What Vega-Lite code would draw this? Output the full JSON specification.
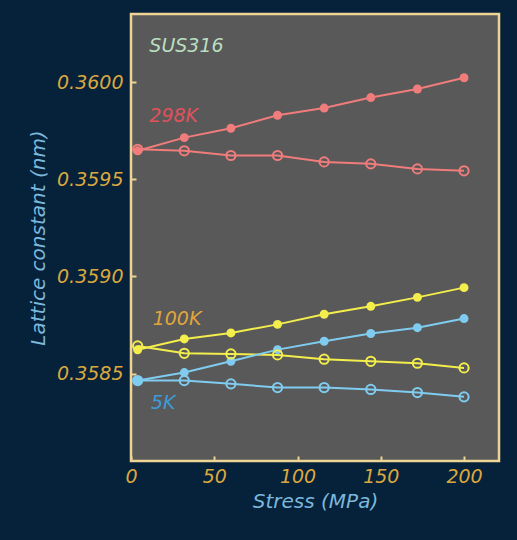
{
  "$schema": "https://vega.github.io/schema/vega-lite/v6.json",
  "width": 368,
  "height": 447,
  "autosize": "none",
  "padding": {"left": 131, "top": 14, "right": 18, "bottom": 79},
  "background": "#06213a",
  "config": {
    "view": {"fill": "#595959", "stroke": "#eed596", "strokeWidth": 2.5},
    "font": "DejaVu Sans",
    "axis": {
      "grid": false,
      "domain": false,
      "labelColor": "#dba83e",
      "labelFont": "DejaVu Sans",
      "labelFontStyle": "italic",
      "labelFontSize": 19,
      "titleColor": "#7ab8dc",
      "titleFont": "DejaVu Sans",
      "titleFontStyle": "italic",
      "titleFontWeight": "normal",
      "titleFontSize": 20,
      "tickColor": "#eed596",
      "tickWidth": 2,
      "tickSize": -5
    }
  },
  "data": {
    "values": [
      {"temp": "298K", "kind": "filled", "stress": 4, "a": 0.359646},
      {"temp": "298K", "kind": "filled", "stress": 32, "a": 0.359714},
      {"temp": "298K", "kind": "filled", "stress": 60, "a": 0.359762},
      {"temp": "298K", "kind": "filled", "stress": 88, "a": 0.359829},
      {"temp": "298K", "kind": "filled", "stress": 116, "a": 0.359866},
      {"temp": "298K", "kind": "filled", "stress": 144, "a": 0.35992},
      {"temp": "298K", "kind": "filled", "stress": 172, "a": 0.359964},
      {"temp": "298K", "kind": "filled", "stress": 200, "a": 0.360022},
      {"temp": "298K", "kind": "open", "stress": 4, "a": 0.359654},
      {"temp": "298K", "kind": "open", "stress": 32, "a": 0.359646},
      {"temp": "298K", "kind": "open", "stress": 60, "a": 0.359622},
      {"temp": "298K", "kind": "open", "stress": 88, "a": 0.359622},
      {"temp": "298K", "kind": "open", "stress": 116, "a": 0.359589},
      {"temp": "298K", "kind": "open", "stress": 144, "a": 0.359579},
      {"temp": "298K", "kind": "open", "stress": 172, "a": 0.359553},
      {"temp": "298K", "kind": "open", "stress": 200, "a": 0.359543},
      {"temp": "100K", "kind": "filled", "stress": 4, "a": 0.358622},
      {"temp": "100K", "kind": "filled", "stress": 32, "a": 0.358678},
      {"temp": "100K", "kind": "filled", "stress": 60, "a": 0.358709},
      {"temp": "100K", "kind": "filled", "stress": 88, "a": 0.358753},
      {"temp": "100K", "kind": "filled", "stress": 116, "a": 0.358805},
      {"temp": "100K", "kind": "filled", "stress": 144, "a": 0.358846},
      {"temp": "100K", "kind": "filled", "stress": 172, "a": 0.358892},
      {"temp": "100K", "kind": "filled", "stress": 200, "a": 0.358942},
      {"temp": "100K", "kind": "open", "stress": 4, "a": 0.358642},
      {"temp": "100K", "kind": "open", "stress": 32, "a": 0.358604},
      {"temp": "100K", "kind": "open", "stress": 60, "a": 0.358601},
      {"temp": "100K", "kind": "open", "stress": 88, "a": 0.358596},
      {"temp": "100K", "kind": "open", "stress": 116, "a": 0.358574},
      {"temp": "100K", "kind": "open", "stress": 144, "a": 0.358563},
      {"temp": "100K", "kind": "open", "stress": 172, "a": 0.358553},
      {"temp": "100K", "kind": "open", "stress": 200, "a": 0.358529},
      {"temp": "5K", "kind": "filled", "stress": 4, "a": 0.358464},
      {"temp": "5K", "kind": "filled", "stress": 32, "a": 0.358505},
      {"temp": "5K", "kind": "filled", "stress": 60, "a": 0.358563},
      {"temp": "5K", "kind": "filled", "stress": 88, "a": 0.358623},
      {"temp": "5K", "kind": "filled", "stress": 116, "a": 0.358666},
      {"temp": "5K", "kind": "filled", "stress": 144, "a": 0.358706},
      {"temp": "5K", "kind": "filled", "stress": 172, "a": 0.358736},
      {"temp": "5K", "kind": "filled", "stress": 200, "a": 0.358783},
      {"temp": "5K", "kind": "open", "stress": 4, "a": 0.358464},
      {"temp": "5K", "kind": "open", "stress": 32, "a": 0.358464},
      {"temp": "5K", "kind": "open", "stress": 60, "a": 0.358447},
      {"temp": "5K", "kind": "open", "stress": 88, "a": 0.358428},
      {"temp": "5K", "kind": "open", "stress": 116, "a": 0.358428},
      {"temp": "5K", "kind": "open", "stress": 144, "a": 0.358418},
      {"temp": "5K", "kind": "open", "stress": 172, "a": 0.358402},
      {"temp": "5K", "kind": "open", "stress": 200, "a": 0.35838}
    ]
  },
  "encoding": {
    "x": {
      "field": "stress", "type": "quantitative",
      "scale": {"domain": [0, 221], "nice": false, "zero": false},
      "axis": {"values": [0, 50, 100, 150, 200], "title": "Stress (MPa)", "labelPadding": 11, "titlePadding": 5, "labelFlush": false}
    },
    "y": {
      "field": "a", "type": "quantitative",
      "scale": {"domain": [0.35805, 0.36035], "nice": false, "zero": false},
      "axis": {"values": [0.3585, 0.359, 0.3595, 0.36], "format": ".4f", "title": "Lattice constant (nm)", "labelPadding": 13, "titlePadding": 8}
    },
    "color": {
      "field": "temp", "type": "nominal",
      "scale": {"domain": ["298K", "100K", "5K"], "range": ["#f07c7c", "#f3ee4c", "#80ccf0"]},
      "legend": null
    }
  },
  "layer": [
    {
      "mark": {"type": "line", "strokeWidth": 2},
      "encoding": {"detail": {"field": "kind", "type": "nominal"}}
    },
    {
      "transform": [{"filter": "datum.kind === 'filled'"}],
      "mark": {"type": "point", "filled": true, "shape": "circle", "size": 80, "opacity": 1}
    },
    {
      "transform": [{"filter": "datum.kind === 'open'"}],
      "mark": {"type": "point", "filled": false, "shape": "circle", "size": 85, "strokeWidth": 2, "opacity": 1}
    },
    {
      "data": {
        "values": [
          {"label": "SUS316", "stress": 11, "a": 0.360185, "c": "#b9dfc2"},
          {"label": "298K", "stress": 11, "a": 0.359825, "c": "#e0525c"},
          {"label": "100K", "stress": 13, "a": 0.358783, "c": "#e2a53c"},
          {"label": "5K", "stress": 12, "a": 0.358351, "c": "#3d9bd8"}
        ]
      },
      "mark": {"type": "text", "align": "left", "baseline": "middle", "font": "DejaVu Sans", "fontStyle": "italic", "fontSize": 19},
      "encoding": {
        "x": {"field": "stress", "type": "quantitative"},
        "y": {"field": "a", "type": "quantitative"},
        "text": {"field": "label"},
        "color": {"field": "c", "type": "nominal", "scale": null}
      }
    }
  ]
}
